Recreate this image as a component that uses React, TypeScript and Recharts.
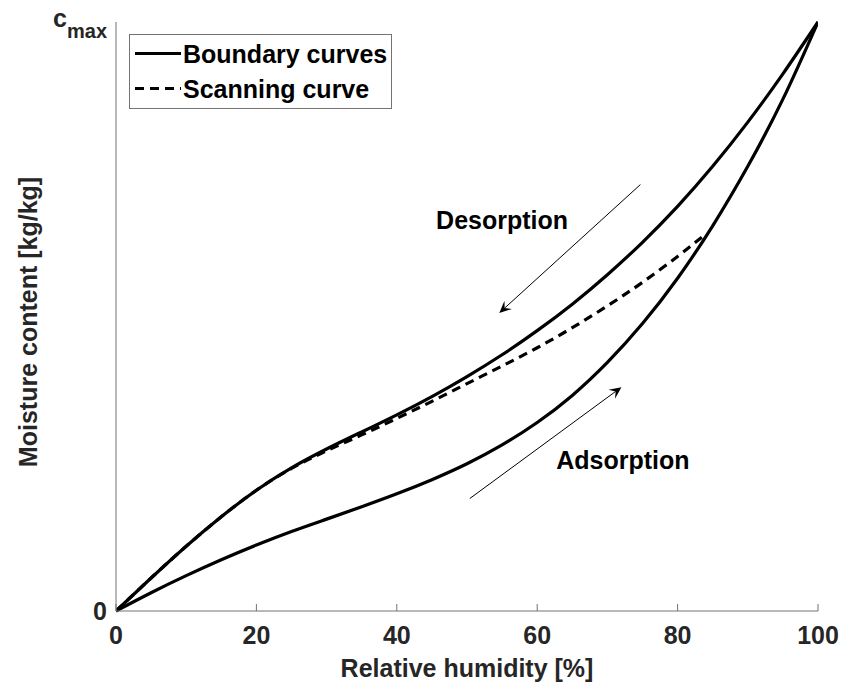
import React from "react";
import {
  LineChart,
  Line,
  XAxis,
  YAxis,
  ReferenceLine,
  ReferenceDot,
} from "recharts";

// ---- data ----
const humidityTicks = [0, 20, 40, 60, 80, 100];
const moistureTicks = [0, 1];

const boundaryRh = [0, 5, 10, 15, 20, 25, 30, 35, 40, 45, 50, 55, 60, 65, 70, 75, 80, 85, 90, 95, 100];
const desorptionValues = [0, 0.056, 0.11, 0.16, 0.205, 0.243, 0.275, 0.304, 0.333, 0.364, 0.398, 0.435, 0.476, 0.521, 0.571, 0.626, 0.687, 0.755, 0.83, 0.912, 1.0];
const adsorptionValues = [0, 0.031, 0.06, 0.087, 0.112, 0.135, 0.156, 0.177, 0.199, 0.223, 0.25, 0.282, 0.32, 0.366, 0.422, 0.488, 0.565, 0.654, 0.755, 0.869, 1.0];

const scanningRh = [0, 5, 10, 15, 20, 25, 30, 35, 40, 45, 50, 55, 60, 65, 70, 75, 80, 84];
const scanningValues = [0, 0.056, 0.11, 0.16, 0.205, 0.242, 0.272, 0.299, 0.327, 0.356, 0.386, 0.416, 0.447, 0.481, 0.518, 0.558, 0.602, 0.64];

const desorptionArrow = [{ x: 74.7, y: 0.724 }, { x: 54.6, y: 0.506 }];
const adsorptionArrow = [{ x: 50.4, y: 0.191 }, { x: 72.0, y: 0.38 }];
const desorptionLabel = { x: 55, y: 0.664, text: "Desorption" };
const adsorptionLabel = { x: 72.2, y: 0.256, text: "Adsorption" };

const desorptionData = boundaryRh.map((x, i) => ({ x, y: desorptionValues[i] }));
const adsorptionData = boundaryRh.map((x, i) => ({ x, y: adsorptionValues[i] }));
const scanningData = scanningRh.map((x, i) => ({ x, y: scanningValues[i] }));

const FONT = "'Liberation Sans', Arial, Helvetica, sans-serif";
const TEXT = "#262626";
const FS = 25;
const AXIS = "#737373";
const LW = 3.2;

const XTick = (props: any) => {
  const { x, y, payload } = props;
  return (
    <g>
      <line x1={x} y1={y} x2={x} y2={y - 7} stroke={AXIS} strokeWidth={1} />
      <text x={x} y={y + 33} textAnchor="middle" fontFamily={FONT} fontWeight="bold" fontSize={FS} fill={TEXT}>
        {payload.value}
      </text>
    </g>
  );
};

const TopTick = (props: any) => {
  const { x, y } = props;
  return <line x1={x} y1={y} x2={x} y2={y + 7} stroke={AXIS} strokeWidth={1} />;
};

const YTick = (props: any) => {
  const { x, y, payload } = props;
  if (payload.value === 1) {
    return (
      <text x={x} y={y + 5} textAnchor="end" fontFamily={FONT} fontWeight="bold" fontSize={FS} fill={TEXT}>
        <tspan>c</tspan>
        <tspan fontSize={20} dy={11}>max</tspan>
      </text>
    );
  }
  return (
    <text x={x} y={y + 9} textAnchor="end" fontFamily={FONT} fontWeight="bold" fontSize={FS} fill={TEXT}>
      {payload.value}
    </text>
  );
};

const Arrow = (props: any) => {
  const { x1, y1, x2, y2 } = props;
  const dx = x2 - x1;
  const dy = y2 - y1;
  const len = Math.sqrt(dx * dx + dy * dy) || 1;
  const ux = dx / len;
  const uy = dy / len;
  const px = -uy;
  const py = ux;
  const L = 12;
  const W = 5.5;
  const bx = x2 - ux * L;
  const by = y2 - uy * L;
  const nx = x2 - ux * L * 0.6;
  const ny = y2 - uy * L * 0.6;
  const pts = `${x2},${y2} ${bx + px * W},${by + py * W} ${nx},${ny} ${bx - px * W},${by - py * W}`;
  return (
    <g>
      <line x1={x1} y1={y1} x2={nx} y2={ny} stroke="#000" strokeWidth={1} />
      <polygon points={pts} fill="#000" stroke="none" />
    </g>
  );
};

const makeLabel = (text: string) => (p: any) => (
  <text x={p.cx} y={p.cy + 9} textAnchor="middle" fontFamily={FONT} fontWeight="bold" fontSize={FS} fill="#000">
    {text}
  </text>
);

export default function App() {
  return (
    <div style={{ position: "relative", width: 843, height: 691 }}>
      <style>{"body{margin:0;}"}</style>
      <LineChart
        width={843}
        height={691}
        margin={{ top: 22, right: 25, bottom: 0, left: 56 }}
      >
        <XAxis
          xAxisId="bottom"
          dataKey="x"
          type="number"
          domain={[0, 100]}
          ticks={humidityTicks}
          allowDataOverflow
          height={80}
          axisLine={{ stroke: AXIS, strokeWidth: 1 }}
          tickLine={false}
          tickSize={0}
          tickMargin={0}
          tick={<XTick />}
          label={{
            content: (p: any) => {
              const vb = p.viewBox || {};
              return (
                <text x={vb.x + vb.width / 2} y={677} textAnchor="middle" fontFamily={FONT} fontWeight="bold" fontSize={FS} fill={TEXT}>
                  Relative humidity [%]
                </text>
              );
            },
          }}
        />
        <XAxis
          xAxisId="top"
          orientation="top"
          dataKey="x"
          type="number"
          domain={[0, 100]}
          ticks={humidityTicks}
          height={0}
          axisLine={{ stroke: AXIS, strokeWidth: 1 }}
          tickLine={false}
          tickSize={0}
          tickMargin={0}
          tick={<TopTick />}
        />
        <YAxis
          yAxisId="left"
          type="number"
          domain={[0, 1]}
          ticks={moistureTicks}
          width={60}
          axisLine={{ stroke: AXIS, strokeWidth: 1 }}
          tickLine={false}
          tickSize={0}
          tickMargin={9}
          tick={<YTick />}
          label={{
            content: () => (
              <text
                x={37}
                y={322}
                transform="rotate(-90 37 322)"
                textAnchor="middle"
                fontFamily={FONT}
                fontWeight="bold"
                fontSize={FS}
                fill={TEXT}
              >
                Moisture content [kg/kg]
              </text>
            ),
          }}
        />
        <YAxis
          yAxisId="right"
          orientation="right"
          type="number"
          domain={[0, 1]}
          ticks={moistureTicks}
          width={0}
          axisLine={{ stroke: AXIS, strokeWidth: 1 }}
          tickLine={false}
          tick={false}
        />
        <Line
          xAxisId="bottom"
          yAxisId="left"
          data={desorptionData}
          dataKey="y"
          type="natural"
          stroke="#000"
          strokeWidth={LW}
          dot={false}
          isAnimationActive={false}
        />
        <Line
          xAxisId="bottom"
          yAxisId="left"
          data={adsorptionData}
          dataKey="y"
          type="natural"
          stroke="#000"
          strokeWidth={LW}
          dot={false}
          isAnimationActive={false}
        />
        <Line
          xAxisId="bottom"
          yAxisId="left"
          data={scanningData}
          dataKey="y"
          type="natural"
          stroke="#000"
          strokeWidth={LW}
          strokeDasharray="9 6"
          dot={false}
          isAnimationActive={false}
        />
        <ReferenceLine
          xAxisId="bottom"
          yAxisId="left"
          segment={desorptionArrow}
          shape={<Arrow />}
        />
        <ReferenceLine
          xAxisId="bottom"
          yAxisId="left"
          segment={adsorptionArrow}
          shape={<Arrow />}
        />
        <ReferenceDot
          xAxisId="bottom"
          yAxisId="left"
          x={desorptionLabel.x}
          y={desorptionLabel.y}
          r={0}
          shape={makeLabel(desorptionLabel.text)}
        />
        <ReferenceDot
          xAxisId="bottom"
          yAxisId="left"
          x={adsorptionLabel.x}
          y={adsorptionLabel.y}
          r={0}
          shape={makeLabel(adsorptionLabel.text)}
        />
      </LineChart>
      <div
        style={{
          position: "absolute",
          left: 129,
          top: 34,
          width: 263,
          height: 75,
          boxSizing: "border-box",
          border: "1px solid " + AXIS,
          background: "#fff",
        }}
      >
        <svg width={261} height={73} style={{ display: "block" }}>
          <line x1={5} y1={18.5} x2={51} y2={18.5} stroke="#000" strokeWidth={LW} />
          <text x={53} y={28} fontFamily={FONT} fontWeight="bold" fontSize={FS} fill="#000">
            Boundary curves
          </text>
          <line x1={5} y1={53.5} x2={51} y2={53.5} stroke="#000" strokeWidth={LW} strokeDasharray="9 6" />
          <text x={53} y={63} fontFamily={FONT} fontWeight="bold" fontSize={FS} fill="#000">
            Scanning curve
          </text>
        </svg>
      </div>
    </div>
  );
}
